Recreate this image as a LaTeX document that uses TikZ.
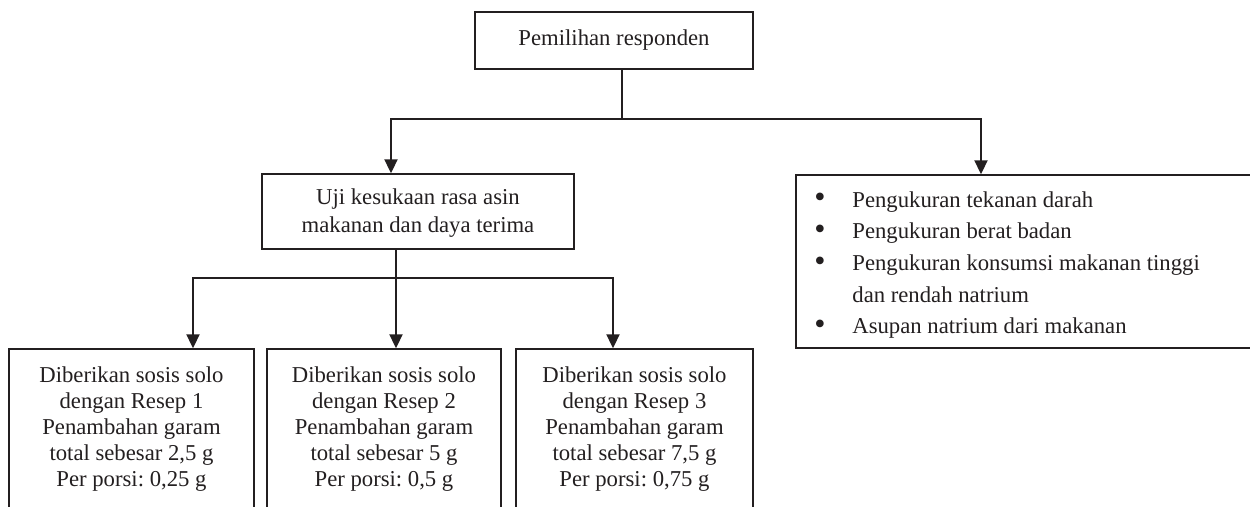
\documentclass[tikz,border=0pt]{standalone}
\usepackage{fontspec}
\setmainfont{Liberation Serif}
\usetikzlibrary{arrows.meta}
\definecolor{ink}{HTML}{231F20}
\newcommand{\bul}{\makebox[19pt][l]{\raisebox{-0.3pt}{\fontsize{16}{16}\selectfont •}}}
\tikzset{
  box/.style={draw=ink, line width=0.7pt, inner sep=0pt, fill=none},
  txt/.style={text=ink, inner sep=0pt, align=center},
  link/.style={draw=ink, line width=1pt},
  arr/.style={link, -{Triangle[length=7pt,width=6.5pt]}},
}
\frenchspacing
\begin{document}
\begin{tikzpicture}[x=0.5pt,y=-0.5pt]
\useasboundingbox (0,0) rectangle (1250,507);
\clip (0,0) rectangle (1250,507);
% boxes
\node[box, minimum width=139pt, minimum height=28.5pt, txt, font={\fontsize{11.35}{14}\selectfont}] (top) at (614,40.5) {Pemilihan responden};
\node[box, minimum width=156pt, minimum height=37.5pt] (uji) at (418,211.5) {};
\node[txt, font={\fontsize{11.35}{14}\selectfont}] (ujit) at (418,213) {Uji kesukaan rasa asin\\makanan dan daya terima};
\node[box, minimum width=252pt, minimum height=86.5pt] (ukur) at (1048,261.5) {};
\node[txt, align=left, anchor=west, font={\fontsize{11.35}{15.85}\selectfont}] (ukurt) at (814,265)
  {\bul Pengukuran tekanan darah\\
   \bul Pengukuran berat badan\\
   \bul Pengukuran konsumsi makanan tinggi\\
   \hspace*{19pt}dan rendah natrium\\
   \bul Asupan natrium dari makanan};
\node[box, minimum width=122.5pt, minimum height=105.5pt] (b1) at (131.5,454.5) {};
\node[box, minimum width=117pt, minimum height=105.5pt] (b2) at (384,454.5) {};
\node[box, minimum width=118.5pt, minimum height=105.5pt] (b3) at (634.5,454.5) {};
\node[txt, font={\fontsize{11.35}{12.9}\selectfont}] (b1t) at (131.5,429) {Diberikan sosis solo\\dengan Resep 1\\Penambahan garam\\total sebesar 2,5 g\\Per porsi: 0,25 g};
\node[txt, font={\fontsize{11.35}{12.9}\selectfont}] (b2t) at (384,429) {Diberikan sosis solo\\dengan Resep 2\\Penambahan garam\\total sebesar 5 g\\Per porsi: 0,5 g};
\node[txt, font={\fontsize{11.35}{12.9}\selectfont}] (b3t) at (634.5,429) {Diberikan sosis solo\\dengan Resep 3\\Penambahan garam\\total sebesar 7,5 g\\Per porsi: 0,75 g};
% connectors
\coordinate (j1) at (622,119.5);
\coordinate (j2) at (396,278.5);
\draw[link] (top.south -| j1) -- (j1);
\draw[arr] (j1) -| ([xshift=-13.5pt]uji.north);
\draw[arr] (j1) -| ([xshift=-33.5pt]ukur.north);
\draw[arr] ([xshift=-11pt]uji.south) -- ([xshift=6pt]b2.north);
\draw[arr] (j2) -| ([xshift=30.75pt]b1.north);
\draw[arr] (j2) -| ([xshift=-10.75pt]b3.north);
\end{tikzpicture}
\end{document}
